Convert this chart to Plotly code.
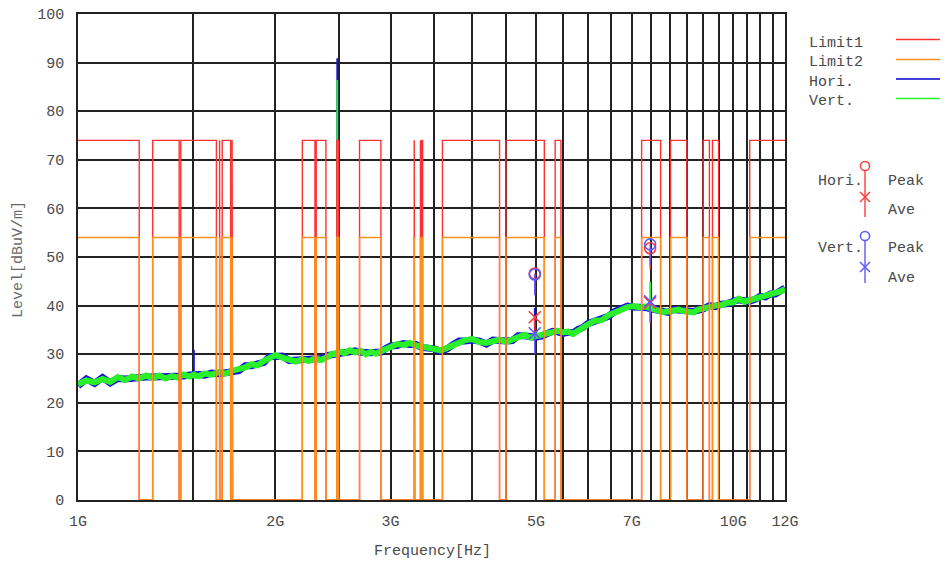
import plotly.graph_objects as go

# ---------------- data ----------------
freq_ghz = [
    1.00, 1.03, 1.06, 1.09, 1.12, 1.15, 1.18, 1.21, 1.24, 1.27,
    1.30, 1.33, 1.36, 1.39, 1.42, 1.45, 1.48, 1.495, 1.503, 1.511,
    1.53, 1.56, 1.60, 1.64, 1.68, 1.72, 1.76, 1.80, 1.84, 1.88,
    1.92, 1.96, 2.00, 2.05, 2.10, 2.15, 2.20, 2.25, 2.30, 2.35,
    2.40, 2.45, 2.483, 2.487, 2.491, 2.52, 2.55, 2.60, 2.65, 2.70,
    2.75, 2.80, 2.85, 2.90, 2.95, 3.00, 3.07, 3.14, 3.21, 3.28,
    3.35, 3.42, 3.50, 3.58, 3.66, 3.74, 3.82, 3.90, 4.00, 4.10,
    4.20, 4.30, 4.40, 4.50, 4.60, 4.70, 4.80, 4.90, 4.97, 4.98,
    4.99, 5.10, 5.20, 5.30, 5.40, 5.50, 5.60, 5.70, 5.80, 5.90,
    6.00, 6.15, 6.30, 6.45, 6.60, 6.75, 6.90, 7.05, 7.20, 7.35,
    7.46, 7.47, 7.48, 7.65, 7.80, 7.95, 8.10, 8.25, 8.40, 8.55,
    8.70, 8.85, 9.00, 9.20, 9.40, 9.60, 9.80, 10.0, 10.2, 10.4,
    10.6, 10.8, 11.0, 11.2, 11.4, 11.6, 11.8, 12.0,
]

vert_level = [
    23.8, 24.6, 24.2, 24.9, 24.3, 25.3, 24.7, 25.4, 25.0, 25.6,
    25.1, 25.6, 25.0, 25.5, 25.2, 25.8, 25.4, 25.9, 25.8, 25.6,
    25.5, 26.0, 25.8, 26.3, 26.0, 26.6, 26.9, 27.3, 27.9, 27.7,
    28.6, 29.2, 29.8, 29.3, 29.0, 28.5, 29.0, 28.6, 29.1, 28.8,
    29.4, 30.1, 30.0, 30.2, 30.3, 30.5, 30.2, 30.8, 30.4, 30.7,
    30.0, 30.5, 30.1, 30.6, 31.0, 31.5, 32.1, 31.9, 32.3, 31.8,
    31.6, 31.2, 31.0, 30.8, 31.3, 31.8, 32.5, 32.9, 33.1, 32.5,
    32.3, 32.7, 33.0, 32.5, 33.0, 33.6, 34.0, 33.4, 33.6, 33.8,
    33.7, 33.9, 34.4, 34.5, 34.8, 34.5, 34.6, 34.2, 34.9, 35.7,
    36.1, 36.9, 37.0, 38.0, 38.6, 39.4, 39.7, 39.9, 39.6, 39.8,
    39.5, 39.6, 39.3, 38.9, 38.7, 38.8, 39.0, 39.2, 38.9, 38.7,
    38.6, 39.2, 39.5, 39.8, 40.0, 40.1, 40.6, 40.7, 41.4, 40.8,
    41.1, 41.5, 41.7, 42.0, 42.2, 42.6, 42.9, 43.4,
]

hori_level = [
    23.5, 24.9, 24.0, 25.2, 24.1, 25.0, 24.9, 25.1, 25.3, 25.3,
    25.3, 25.3, 25.2, 25.2, 25.5, 25.5, 25.7, 25.8, 25.9, 25.9,
    25.8, 25.7, 26.1, 26.0, 26.3, 26.3, 26.6, 27.6, 27.6, 28.0,
    28.3, 29.5, 29.5, 29.6, 28.7, 28.8, 28.7, 28.9, 28.8, 29.1,
    29.7, 29.9, 30.2, 30.2, 30.1, 30.3, 30.4, 30.5, 30.7, 30.4,
    30.2, 30.3, 30.4, 30.4, 31.2, 31.7, 31.8, 32.2, 32.0, 32.0,
    31.4, 31.4, 31.1, 30.6, 31.1, 32.0, 32.7, 32.7, 32.9, 32.7,
    32.1, 32.9, 32.7, 32.7, 32.8, 33.8, 33.8, 33.6, 33.5, 33.4,
    33.5, 33.7, 34.2, 34.7, 34.6, 34.3, 34.5, 34.4, 35.1, 35.5,
    36.3, 36.7, 37.3, 37.8, 38.8, 39.3, 39.9, 39.7, 39.8, 39.6,
    39.4, 39.6, 39.4, 39.1, 38.9, 38.6, 39.2, 39.0, 39.1, 38.9,
    38.8, 39.0, 39.3, 40.0, 39.8, 40.3, 40.4, 40.9, 41.2, 41.0,
    40.9, 41.3, 41.9, 41.8, 42.4, 42.4, 43.0, 43.6,
]

# narrow spurious peaks on top of the noise floor
hori_spike_freq = [1.503, 2.487, 4.98]
hori_spike_base = [25.9, 30.2, 33.4]
hori_spike_peak = [30.9, 90.9, 39.5]
vert_spike_freq = [2.487, 7.47]
vert_spike_base = [30.2, 39.6]
vert_spike_peak = [86.4, 44.9]

# restricted bands (GHz) where the limits apply
band_lo = [0.96, 1.30, 1.435, 1.645, 1.66, 1.7188, 2.2, 2.31, 2.4835, 2.69,
           3.26, 3.332, 3.3458, 3.6, 4.5, 5.35, 7.25, 8.025, 9.0, 9.3, 10.6]
band_hi = [1.24, 1.427, 1.6265, 1.6465, 1.71, 1.7222, 2.3, 2.39, 2.5, 2.9,
           3.267, 3.339, 3.358, 4.4, 5.15, 5.46, 7.75, 8.5, 9.2, 9.5, 12.7]
limit1_level = 74
limit2_level = 54

# final measurement markers
marker_freq = [4.98, 7.47]
hori_peak = [46.6, 51.8]
hori_ave = [37.6, 40.6]
vert_peak = [46.4, 52.6]
vert_ave = [34.3, 40.9]

x_tick_vals = [1.0, 1.5, 2.0, 2.5, 3.0, 3.5, 4.0, 4.5, 5.0, 5.5, 6.0, 6.5,
               7.0, 7.5, 8.0, 8.5, 9.0, 9.5, 10.0, 10.5, 11.0, 11.5, 12.0]
x_tick_text = ["1G", "", "2G", "", "3G", "", "", "", "5G", "", "", "",
               "7G", "", "", "", "", "", "10G", "", "", "", "12G"]
y_tick_vals = [0, 10, 20, 30, 40, 50, 60, 70, 80, 90, 100]

# ---------------- styling ----------------
# page body has an 8px default margin, so the figure starts at (8, 8)
OFF = 8
W, H = 948 - OFF, 567 - OFF
L, R, T, B = 78, 785, 14, 500          # plot area in screen pixels
FONT = "Liberation Mono"
C_LIM1 = "#ff3030"
C_LIM2 = "#ff8f1f"
C_HORI = "#1414e0"
C_VERT = "#2af02a"
C_MRED = "#ff3b3b"
C_MBLUE = "#5a5aff"
TXT = "#4a4a4a"


def px(x):
    return (x - L) / (R - L)


def py(y):
    return (B - y) / (B - T)


def step_limit(level):
    xs, ys = [], []
    for lo, hi in zip(band_lo, band_hi):
        xs += [lo, lo, hi, hi]
        ys += [0, level, level, 0]
    return xs, ys


def spike_path(freqs, base, peak):
    xs, ys = [], []
    for f, b, p in zip(freqs, base, peak):
        xs += [f, f, None]
        ys += [b, p, None]
    return xs, ys


fig = go.Figure()
fig.add_trace(go.Scatter(x=freq_ghz, y=hori_level, mode="lines",
                         line=dict(color=C_HORI, width=7), showlegend=False))
sx, sy = spike_path(hori_spike_freq, hori_spike_base, hori_spike_peak)
fig.add_trace(go.Scatter(x=sx, y=sy, mode="lines",
                         line=dict(color=C_HORI, width=1.8), showlegend=False))
fig.add_trace(go.Scatter(x=freq_ghz, y=vert_level, mode="lines",
                         line=dict(color=C_VERT, width=6), showlegend=False))
sx, sy = spike_path(vert_spike_freq, vert_spike_base, vert_spike_peak)
fig.add_trace(go.Scatter(x=sx, y=sy, mode="lines",
                         line=dict(color=C_VERT, width=1.8), showlegend=False))
l1x, l1y = step_limit(limit1_level)
fig.add_trace(go.Scatter(x=l1x, y=l1y, mode="lines",
                         line=dict(color=C_LIM1, width=1.4), showlegend=False))
l2x, l2y = step_limit(limit2_level)
fig.add_trace(go.Scatter(x=l2x, y=l2y, mode="lines",
                         line=dict(color=C_LIM2, width=1.4), showlegend=False))

STEM = 4.3


def marker_trace(yvals, symbol, color, size):
    return go.Scatter(
        x=marker_freq, y=yvals, mode="markers", showlegend=False,
        marker=dict(symbol=symbol, size=size, color=color,
                    line=dict(color=color, width=1.6)),
        error_y=dict(type="data", symmetric=False, array=[0] * len(yvals),
                     arrayminus=[STEM] * len(yvals), width=0,
                     thickness=1.3, color=color))


fig.add_trace(marker_trace(hori_peak, "circle-open", C_MRED, 11))
fig.add_trace(marker_trace(hori_ave, "x-thin-open", C_MRED, 12))
fig.add_trace(marker_trace(vert_peak, "circle-open", C_MBLUE, 11))
fig.add_trace(marker_trace(vert_ave, "x-thin-open", C_MBLUE, 12))

shapes = []
annotations = []

# line legend
legend_items = [("Limit1", C_LIM1, 43, 39.5), ("Limit2", C_LIM2, 62, 59.5),
                ("Hori.", "#0000cc", 82, 79), ("Vert.", C_VERT, 101, 98.5)]
for name, col, ty, ly in legend_items:
    annotations.append(dict(x=px(807), y=py(ty), xref="paper", yref="paper",
                            text=name, showarrow=False, xanchor="left",
                            yanchor="middle",
                            font=dict(family=FONT, size=15, color=TXT)))
    shapes.append(dict(type="line", xref="paper", yref="paper",
                       x0=px(896), x1=px(948), y0=py(ly), y1=py(ly),
                       line=dict(color=col, width=1.6)))

# marker legend
for name, col, cy, xy, ty_peak, ty_ave, stem_end in [
        ("Hori.", C_MRED, 166, 197, 181, 210, 217),
        ("Vert.", C_MBLUE, 236, 267, 248, 278, 283)]:
    cx = 865
    r = 4.6
    shapes.append(dict(type="circle", xref="paper", yref="paper",
                       x0=px(cx - r), x1=px(cx + r), y0=py(cy + r), y1=py(cy - r),
                       line=dict(color=col, width=1.5)))
    shapes.append(dict(type="line", xref="paper", yref="paper",
                       x0=px(cx), x1=px(cx), y0=py(cy + r), y1=py(stem_end),
                       line=dict(color=col, width=1.4)))
    d = 5
    shapes.append(dict(type="line", xref="paper", yref="paper",
                       x0=px(cx - d), x1=px(cx + d), y0=py(xy - d), y1=py(xy + d),
                       line=dict(color=col, width=1.5)))
    shapes.append(dict(type="line", xref="paper", yref="paper",
                       x0=px(cx - d), x1=px(cx + d), y0=py(xy + d), y1=py(xy - d),
                       line=dict(color=col, width=1.5)))
    for txt, tx, ty in [(name, 816, ty_peak), ("Peak", 886, ty_peak), ("Ave", 886, ty_ave)]:
        annotations.append(dict(x=px(tx), y=py(ty), xref="paper", yref="paper",
                                text=txt, showarrow=False, xanchor="left",
                                yanchor="middle",
                                font=dict(family=FONT, size=15, color=TXT)))

# axis titles
annotations.append(dict(x=px(432), y=py(551), xref="paper", yref="paper",
                        text="Frequency[Hz]", showarrow=False,
                        xanchor="center", yanchor="middle",
                        font=dict(family=FONT, size=15, color=TXT)))
annotations.append(dict(x=px(18), y=py(260), xref="paper", yref="paper",
                        text="Level[dBuV/m]", showarrow=False, textangle=-90,
                        xanchor="center", yanchor="middle",
                        font=dict(family=FONT, size=15, color="#6a6a6a")))

fig.update_layout(
    width=W, height=H,
    margin=dict(l=L - OFF, r=W - (R - OFF), t=T - OFF, b=H - (B - OFF),
                pad=0, autoexpand=False),
    paper_bgcolor="white", plot_bgcolor="white",
    shapes=shapes, annotations=annotations,
    xaxis=dict(type="log", range=[0, 1.0791812460476249], automargin=False,
               tickvals=x_tick_vals, ticktext=x_tick_text,
               showgrid=True, gridcolor="#222222", gridwidth=1.5,
               showline=True, linecolor="#222222", linewidth=1.5, mirror=True,
               zeroline=False, ticks="", ticklabelstandoff=6,
               ticklabeloverflow="allow", layer="below traces",
               tickfont=dict(family=FONT, size=15, color=TXT)),
    yaxis=dict(range=[0, 100], tickvals=y_tick_vals, automargin=False,
               showgrid=True, gridcolor="#222222", gridwidth=1.5,
               showline=True, linecolor="#222222", linewidth=1.5, mirror=True,
               zeroline=False, ticks="", ticklabelstandoff=9,
               ticklabeloverflow="allow", layer="below traces",
               tickfont=dict(family=FONT, size=15, color=TXT)),
)

fig.write_html("out.html")
